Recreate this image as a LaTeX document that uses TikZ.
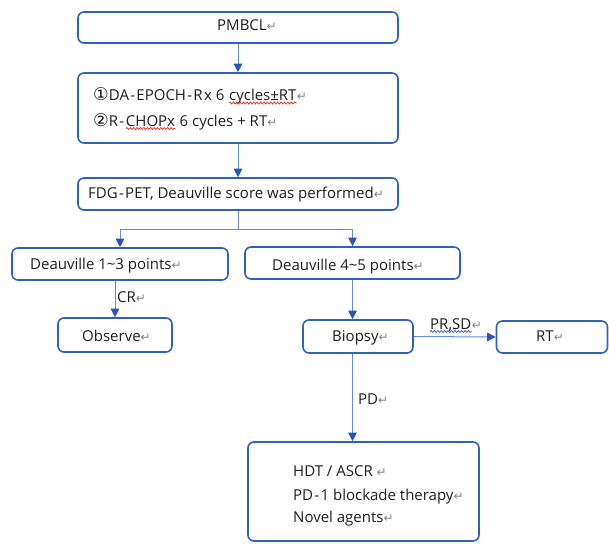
\documentclass[tikz,border=0pt]{standalone}
\usepackage{fontspec}
\setmainfont{Open Sans}
\newfontfamily\symfont{DejaVu Sans}
\usetikzlibrary{arrows.meta,decorations.pathmorphing}
\definecolor{boxblue}{RGB}{47,95,196}
\definecolor{lineblue}{RGB}{100,140,212}
\definecolor{tipblue}{RGB}{40,85,185}
\definecolor{txtcol}{RGB}{30,30,30}
\definecolor{retgray}{RGB}{130,130,130}
\definecolor{wavered}{RGB}{225,40,40}
\definecolor{waveblue}{RGB}{50,80,220}
\newcommand\ret{{\symfont\color{retgray}\fontsize{12}{12}\selectfont ↵}}
\newcommand\hy{\kern1.3pt-\kern1.3pt}
\newcommand\circnum[1]{{\symfont\fontsize{17.5}{18}\selectfont #1}}
\tikzset{
  box/.style={draw=boxblue, line width=1.6pt, rounded corners=6pt, inner sep=0pt},
  txt/.style={anchor=base west, inner sep=0pt, text=txtcol, font=\fontsize{15}{18}\selectfont},
  plain/.style={draw=lineblue, line width=1pt},
  conn/.style={draw=lineblue, line width=1pt, -{Triangle[width=8.5pt,length=8.5pt,color=tipblue]}},
  wave/.style={draw=#1, line width=0.7pt, decorate, decoration={snake, amplitude=1pt, segment length=3.4pt}}
}
\begin{document}
\begin{tikzpicture}[x=1pt,y=-1pt]
\useasboundingbox (0,0) rectangle (609,543);
% boxes
\node[box, minimum width=320pt, minimum height=31pt] (pmbcl) at (238,27.5) {};
\node[box, minimum width=320pt, minimum height=70pt] (regimen) at (238,108) {};
\node[box, minimum width=320pt, minimum height=32pt] (pet) at (238,194) {};
\node[box, minimum width=216pt, minimum height=32pt] (d13) at (120,264) {};
\node[box, minimum width=215pt, minimum height=32pt] (d45) at (352.5,263) {};
\node[box, minimum width=114pt, minimum height=34pt] (observe) at (115,335) {};
\node[box, minimum width=110pt, minimum height=33pt] (biopsy) at (358,336.5) {};
\node[box, minimum width=111pt, minimum height=32pt] (rt) at (552,337) {};
\node[box, minimum width=231pt, minimum height=99pt] (novel) at (363.5,491.5) {};
% texts
\node[txt] (tpmbcl) at (217,30.5) {PMBCL\ret};
\node[txt] (treg1a) at (93,100.5) {\circnum{①}DA\hy EPOCH\hy R\kern1.5pt x 6};
\node[txt, xshift=4.2pt] (treg1b) at (treg1a.base east) {cycles±RT};
\node[txt] (treg1c) at (treg1b.base east) {\ret};
\node[txt] (treg2a) at (93,126) {\circnum{②}R\hy};
\node[txt] (treg2b) at (treg2a.base east) {CHOPx};
\node[txt] (treg2c) at (treg2b.base east) {\hspace{4.2pt}6 cycles + RT\ret};
\node[txt] (tpet) at (88,198) {FDG\hy PET, Deauville score was performed\ret};
\node[txt] (td13) at (30,269) {Deauville 1\textasciitilde 3 points\ret};
\node[txt] (td45) at (272,270) {Deauville 4\textasciitilde 5 points\ret};
\node[txt] (tobs) at (82,341.5) {Observe\ret};
\node[txt] (tbio) at (332,341) {Biopsy\ret};
\node[txt] (trt) at (536,341) {RT\ret};
\node[txt] (tn1) at (293,476.5) {HDT / ASCR \ret};
\node[txt] (tn2) at (293,500.5) {PD\hy 1 blockade therapy\ret};
\node[txt] (tn3) at (293,522.5) {Novel agents\ret};
% wavy underlines
\draw[wave=wavered] ([yshift=-2.5pt]treg1b.base west) -- ([yshift=-2.5pt]treg1b.base east);
\draw[wave=wavered] ([yshift=-2.5pt]treg2b.base west) -- ([yshift=-2.5pt]treg2b.base east);
% connectors
\coordinate (split) at (238,229);
\draw[conn] (pmbcl.south) -- (regimen.north);
\draw[conn] (regimen.south) -- (pet.north);
\draw[plain] (pet.south) -- (split);
\draw[conn] (split) -| (d13.north);
\draw[conn] (split) -| (d45.north);
\draw[conn] (d13.south -| observe.north) -- (observe.north);
\draw[conn] (d45.south) -- (d45.south |- biopsy.north);
\draw[conn] (biopsy.east) -- (rt.west);
\draw[conn] (biopsy.south -| d45.south) -- (d45.south |- novel.north);
% connector labels
\node[txt] (lcr) at (117,302) {CR\ret};
\node[txt] (lpra) at (430,329) {PR,SD};
\node[txt] (lprb) at (lpra.base east) {\ret};
\node[txt] (lpd) at (358,404) {PD\ret};
\draw[wave=waveblue] ([yshift=-2.5pt]lpra.base west) -- ([yshift=-2.5pt]lpra.base east);
\end{tikzpicture}
\end{document}
